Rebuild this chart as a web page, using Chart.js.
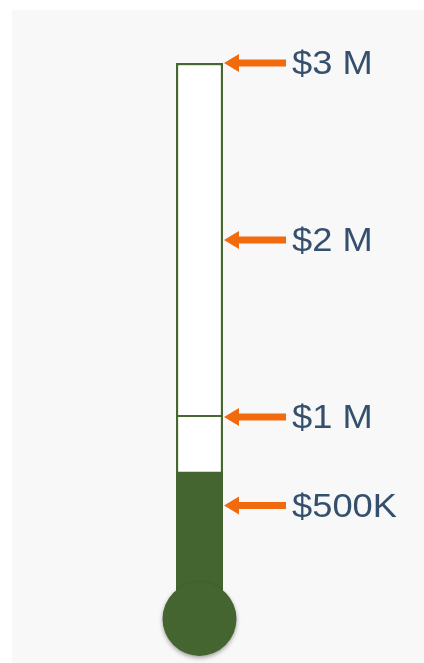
<!DOCTYPE html>
<html>
<head>
<meta charset="utf-8">
<script src="https://cdn.jsdelivr.net/npm/chart.js@4.4.1/dist/chart.umd.min.js"></script>
<style>
  html, body { margin: 0; padding: 0; background: #fff; }
  canvas { display: block; }
</style>
</head>
<body>
<canvas id="thermo" width="424" height="663"></canvas>
<script>
// values
const categories = ['Campaign'];
const goal = [3000000];
const milestone = [1000000];
const raised = [690000];
const markerValues = [3000000, 2000000, 1000000, 500000];
const markerLabels = ['$3 M', '$2 M', '$1 M', '$500K'];

const green = '#44652f';
const greenLine = '#46672f';
const orange = '#f26a0e';
const textColor = '#34506d';

// panel behind the chart
const panelBg = {
  id: 'panelBg',
  beforeDraw(chart) {
    const ctx = chart.ctx;
    ctx.save();
    ctx.fillStyle = '#ffffff';
    ctx.fillRect(0, 0, chart.width, chart.height);
    ctx.fillStyle = '#f8f8f8';
    ctx.fillRect(12, 10, chart.width - 12, chart.height - 10);
    ctx.restore();
  }
};

// orange arrows + labels next to the tube
const markers = {
  id: 'markers',
  afterDatasetsDraw(chart) {
    const ctx = chart.ctx;
    const y = chart.scales.y;
    const x0 = chart.chartArea.right + 1;
    ctx.save();
    markerValues.forEach((v, i) => {
      const py = y.getPixelForValue(v);
      ctx.fillStyle = orange;
      ctx.beginPath();
      ctx.moveTo(x0, py);
      ctx.lineTo(x0 + 15, py - 9);
      ctx.lineTo(x0 + 15, py - 3.5);
      ctx.lineTo(x0 + 62, py - 3.5);
      ctx.lineTo(x0 + 62, py + 3.5);
      ctx.lineTo(x0 + 15, py + 3.5);
      ctx.lineTo(x0 + 15, py + 9);
      ctx.closePath();
      ctx.fill();
      ctx.save();
      ctx.translate(x0 + 68, py + 2);
      ctx.scale(1.1, 1);
      ctx.fillStyle = textColor;
      ctx.font = '33px "Liberation Sans", Arial, sans-serif';
      ctx.textBaseline = 'middle';
      ctx.textAlign = 'left';
      ctx.fillText(markerLabels[i], 0, 0);
      ctx.restore();
    });
    ctx.restore();
  }
};

const bulbShadow = {
  id: 'bulbShadow',
  beforeDatasetDraw(chart, args) {
    if (args.index !== 3) return;
    const ctx = chart.ctx;
    ctx.save();
    ctx.shadowColor = 'rgba(0,0,0,0.35)';
    ctx.shadowBlur = 4;
    ctx.shadowOffsetY = 2;
  },
  afterDatasetDraw(chart, args) {
    if (args.index !== 3) return;
    chart.ctx.restore();
  }
};

new Chart(document.getElementById('thermo'), {
  type: 'bar',
  data: {
    labels: categories,
    datasets: [
      {
        // upper part of the tube: milestone to goal
        data: goal.map((g, i) => [milestone[i], g]),
        backgroundColor: '#ffffff',
        borderColor: greenLine,
        borderWidth: 2.5,
        borderSkipped: false,
        grouped: false,
        order: 4
      },
      {
        // lower part of the tube: bottom to milestone
        data: milestone.map(m => [-100000, m]),
        backgroundColor: '#ffffff',
        borderColor: greenLine,
        borderWidth: 2.5,
        borderSkipped: 'top',
        grouped: false,
        order: 3
      },
      {
        // amount raised
        data: raised.map(r => [-140000, r]),
        backgroundColor: green,
        borderWidth: 0,
        grouped: false,
        order: 2
      },
      {
        // bulb
        type: 'line',
        data: [-140000],
        showLine: false,
        pointRadius: 37,
        pointHoverRadius: 37,
        pointBackgroundColor: green,
        pointBorderWidth: 0,
        clip: false,
        order: 1
      }
    ]
  },
  options: {
    responsive: false,
    animation: false,
    events: [],
    layout: { padding: { left: 176, right: 201, top: 63, bottom: 13 } },
    datasets: { bar: { barPercentage: 1, categoryPercentage: 1 } },
    plugins: { legend: { display: false }, tooltip: { enabled: false } },
    scales: {
      x: { display: false },
      y: { display: false, min: -180000, max: 3000000 }
    }
  },
  plugins: [panelBg, markers, bulbShadow]
});
</script>
</body>
</html>
